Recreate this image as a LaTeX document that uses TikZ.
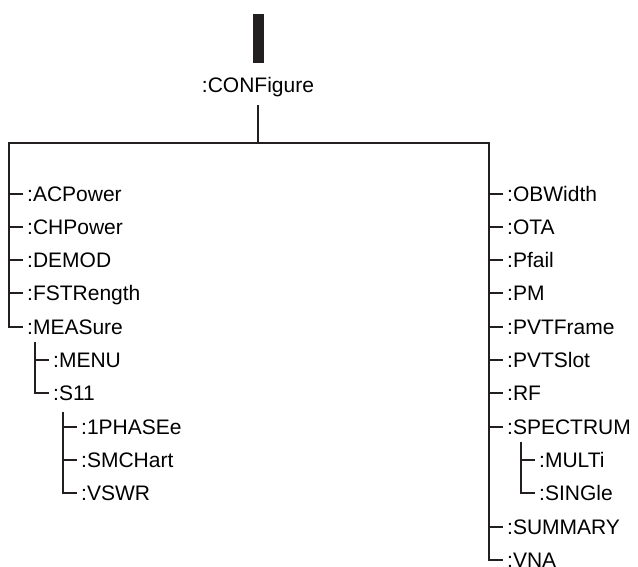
\documentclass[tikz,border=0pt]{standalone}
\usepackage{fontspec}
\setmainfont{Liberation Sans}
\definecolor{ln}{RGB}{35,31,32}
\begin{document}
\begin{tikzpicture}[x=1pt,y=-1pt,
  item/.style={anchor=west,inner xsep=4pt,inner ysep=0pt,text height=15pt,text depth=0pt,
    font=\fontsize{21pt}{25pt}\selectfont},
  wire/.style={draw=ln,line width=2pt},
  barbox/.style={fill=ln,draw=none,minimum width=11pt,minimum height=49pt,inner sep=0pt}]
\useasboundingbox (0,0) rectangle (638,566);
% root
\node[barbox] (bar) at (258,38.5) {};
\node[item,anchor=south] (conf) at (258,93) {:CONFigure};
\coordinate (cl) at (9,143);
\coordinate (cr) at (489,143);
\coordinate (cm) at (258,143);
% left column
\node[item] (acp) at (23,193.5) {:ACPower};
\node[item] (chp) at (23,226.8) {:CHPower};
\node[item] (dem) at (23,260.1) {:DEMOD};
\node[item] (fst) at (23,293.4) {:FSTRength};
\node[item] (mea) at (23,326.7) {:MEASure};
\node[item] (men) at (49,360.0) {:MENU};
\node[item] (s11) at (49,393.3) {:S11};
\node[item] (pha) at (77,426.6) {:1PHASEe};
\node[item] (smc) at (77,459.9) {:SMCHart};
\node[item] (vsw) at (77,493.2) {:VSWR};
% right column
\node[item] (obw) at (503,193.5) {:OBWidth};
\node[item] (ota) at (503,226.8) {:OTA};
\node[item] (pfa) at (503,260.1) {:Pfail};
\node[item] (pm)  at (503,293.4) {:PM};
\node[item] (pvf) at (503,326.7) {:PVTFrame};
\node[item] (pvs) at (503,360.0) {:PVTSlot};
\node[item] (rf)  at (503,393.3) {:RF};
\node[item] (spe) at (503,426.6) {:SPECTRUM};
\node[item] (mul) at (535,459.9) {:MULTi};
\node[item] (sin) at (535,493.2) {:SINGle};
\node[item] (sum) at (503,526.5) {:SUMMARY};
\node[item] (vna) at (503,559.8) {:VNA};
% sub-tree starts
\coordinate (m0) at (35,342);
\coordinate (s0) at (63,412);
\coordinate (p0) at (521,442);
% connectors
\draw[wire] ([yshift=-12pt]conf.south) -- (cm);
\draw[wire,line join=miter] (mea.west) -| (cl) -- (cr) |- (vna.west);
\foreach \n in {acp,chp,dem,fst}{\draw[wire] (cl |- \n.west) -- (\n.west);}
\foreach \n in {obw,ota,pfa,pm,pvf,pvs,rf,spe,sum}{\draw[wire] (cr |- \n.west) -- (\n.west);}
\draw[wire] (m0) |- (s11.west);
\draw[wire] (m0 |- men.west) -- (men.west);
\draw[wire] (s0) |- (vsw.west);
\draw[wire] (s0 |- pha.west) -- (pha.west);
\draw[wire] (s0 |- smc.west) -- (smc.west);
\draw[wire] (p0) |- (sin.west);
\draw[wire] (p0 |- mul.west) -- (mul.west);
\end{tikzpicture}
\end{document}
